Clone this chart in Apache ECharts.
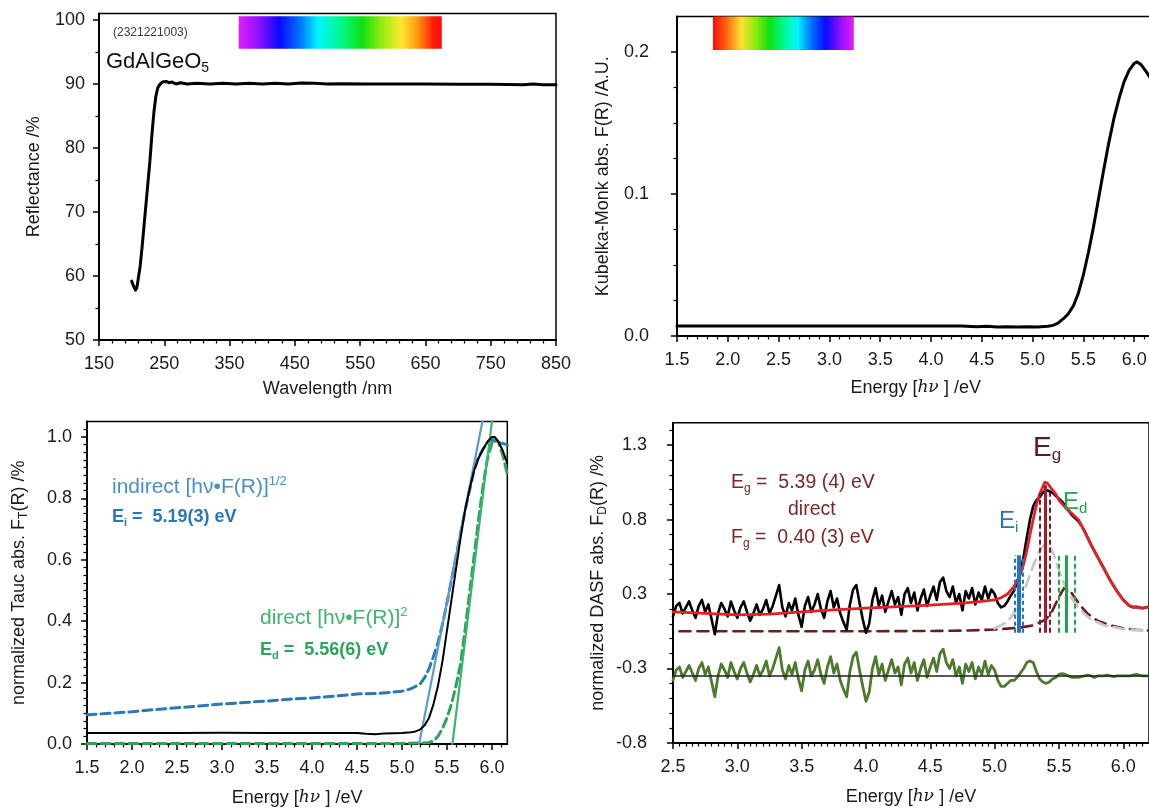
<!DOCTYPE html>
<html>
<head>
<meta charset="utf-8">
<script src="https://cdn.jsdelivr.net/npm/echarts@6/dist/echarts.min.js"></script>
<style>
  html, body { margin: 0; padding: 0; background: #fff; }
  #chart { width: 1149px; height: 810px; }
</style>
</head>
<body>
<div id="chart"></div>
<script>
// ---------- Reflectance spectrum (upper left) ----------
const reflWavelength = [200,203,206,208,210,213,216,220,224,228,231,234,237,240,243,247,250,253,257,262,268,275,285,300,320,340,360,380,400,420,440,460,480,500,520,560,600,650,700,750,800,815,830,850];
const reflPercent = [59.2,58.4,57.8,58.2,59.5,61.5,64.5,69,73.5,78,82,85.5,88,89.4,89.9,90.3,90.1,90.4,90.2,90.3,90.0,90.2,90.0,90.1,90.0,90.1,90.0,90.1,90.0,90.1,90.0,90.15,90.1,90.0,90.05,90.0,90.0,90.0,89.95,89.95,89.9,90.0,89.9,89.9];
const reflXTicks = [150,250,350,450,550,650,750,850];
const reflYTicks = [50,60,70,80,90,100];
const visibleBandNm = [364, 675];
const visibleBandR = [95.5, 100.6];

// ---------- Kubelka-Munk absorption (upper right) ----------
const kmEnergy = [1.5,2.0,2.5,3.0,3.5,4.0,4.3,4.45,4.55,4.65,4.75,4.85,4.95,5.05,5.15,5.2,5.25,5.3,5.35,5.4,5.45,5.5,5.55,5.6,5.65,5.7,5.75,5.8,5.85,5.9,5.95,6.0,6.03,6.07,6.12,6.2];
const kmValue = [0.0070,0.0070,0.0070,0.0070,0.0071,0.0070,0.0071,0.0066,0.0068,0.0064,0.0066,0.0063,0.0065,0.0064,0.0068,0.0075,0.009,0.012,0.0155,0.021,0.030,0.043,0.059,0.077,0.097,0.117,0.136,0.153,0.167,0.179,0.187,0.192,0.193,0.191,0.186,0.177];
const kmYTicks = [0, 0.1, 0.2];
const kmBandEnergy = [1.854, 3.24];
const kmBandValue = [0.2014, 0.225];
const energyTicks = [1.5,2.0,2.5,3.0,3.5,4.0,4.5,5.0,5.5,6.0];

// ---------- Tauc plots (lower left) ----------
const taucEnergy = [1.5,2.0,2.5,3.0,3.5,4.0,4.5,4.6,4.7,4.8,4.9,5.0,5.1,5.15,5.2,5.25,5.3,5.35,5.4,5.45,5.5,5.55,5.6,5.65,5.7,5.75,5.8,5.85,5.9,5.95,6.0,6.03,6.07,6.12,6.17];
const taucValue = [0.036,0.036,0.036,0.037,0.036,0.036,0.036,0.033,0.032,0.034,0.035,0.036,0.038,0.041,0.047,0.06,0.085,0.13,0.19,0.27,0.37,0.47,0.57,0.67,0.76,0.83,0.89,0.93,0.96,0.985,1.0,1.0,0.985,0.955,0.915];
const indirectEnergy = [1.5,1.75,2.0,2.25,2.5,2.75,3.0,3.25,3.5,3.75,4.0,4.25,4.5,4.75,5.0,5.1,5.2,5.25,5.3,5.35,5.4,5.45,5.5,5.6,5.7,5.8,5.85,5.9,5.95,6.0,6.05,6.1,6.17];
const indirectValue = [0.095,0.10,0.105,0.112,0.118,0.124,0.13,0.135,0.14,0.146,0.150,0.156,0.163,0.165,0.172,0.18,0.195,0.215,0.245,0.285,0.33,0.39,0.46,0.61,0.76,0.89,0.935,0.96,0.98,0.99,0.985,0.98,0.975];
const directEnergy = [1.5,2.5,3.5,4.5,5.0,5.2,5.3,5.35,5.4,5.45,5.5,5.55,5.6,5.65,5.7,5.75,5.8,5.85,5.9,5.95,6.0,6.03,6.07,6.12,6.17];
const directValue = [0.002,0.002,0.002,0.002,0.002,0.003,0.005,0.01,0.025,0.05,0.085,0.13,0.19,0.26,0.37,0.49,0.61,0.73,0.84,0.93,0.98,0.995,0.985,0.94,0.88];
const indirectFitEnergy = [5.19, 5.92];
const indirectFitValue = [0, 1.09];
const directFitEnergy = [5.56, 6.02];
const directFitValue = [0, 1.10];
const taucYTicks = [0, 0.2, 0.4, 0.6, 0.8, 1.0];

// ---------- DASF analysis (lower right) ----------
const dasfStart = 2.5, dasfStep = 0.025;
const dasfMeasured = [
  0.10,0.17,0.19,0.12,0.16,0.20,0.14,0.09,0.17,0.21,0.13,0.18,0.08,-0.02,0.12,0.19,0.15,0.10,0.20,0.14,
  0.09,0.16,0.20,0.13,0.07,0.12,0.18,0.11,0.15,0.21,0.12,0.17,0.24,0.31,0.16,0.10,0.19,0.14,0.22,0.11,
  0.03,0.17,0.23,0.13,0.18,0.25,0.15,0.09,0.20,0.27,0.16,0.22,0.12,0.06,0.01,0.18,0.28,0.31,0.19,0.08,
  -0.01,0.05,0.21,0.29,0.17,0.24,0.13,0.20,0.27,0.18,0.23,0.11,0.25,0.29,0.19,0.26,0.14,0.22,0.28,0.17,
  0.24,0.30,0.21,0.33,0.36,0.27,0.23,0.30,0.19,0.25,0.14,0.27,0.22,0.29,0.18,0.26,0.21,0.30,0.22,0.28,
  0.25,0.19,0.16,0.17,0.20,0.24,0.27,0.33,0.40,0.50,0.63,0.75,0.84,0.88,0.90,0.93,0.95,0.94,0.93,0.91,
  0.89,0.87,0.84,0.81,0.78,0.76,0.74,0.71,0.67,0.625,0.58,0.54,0.50,0.46,0.42,0.38,0.34,0.305,0.27,0.24,
  0.21,0.19,0.17,0.16,0.165,0.16,0.155,0.16,0.165
];
const dasfResidual = [
  -0.33,-0.26,-0.24,-0.31,-0.27,-0.23,-0.28,-0.33,-0.25,-0.21,-0.29,-0.24,-0.34,-0.44,-0.30,-0.22,-0.26,-0.31,-0.21,-0.27,
  -0.32,-0.25,-0.21,-0.28,-0.34,-0.29,-0.23,-0.30,-0.26,-0.20,-0.30,-0.25,-0.18,-0.11,-0.26,-0.32,-0.23,-0.29,-0.21,-0.32,
  -0.40,-0.26,-0.20,-0.30,-0.26,-0.19,-0.29,-0.35,-0.24,-0.17,-0.28,-0.22,-0.33,-0.39,-0.44,-0.27,-0.17,-0.14,-0.26,-0.37,
  -0.47,-0.41,-0.25,-0.17,-0.29,-0.22,-0.33,-0.26,-0.19,-0.28,-0.24,-0.36,-0.22,-0.18,-0.28,-0.21,-0.33,-0.25,-0.19,-0.31,
  -0.24,-0.18,-0.27,-0.15,-0.12,-0.21,-0.25,-0.19,-0.30,-0.24,-0.35,-0.22,-0.27,-0.21,-0.32,-0.24,-0.29,-0.20,-0.29,-0.23,
  -0.26,-0.33,-0.37,-0.37,-0.35,-0.33,-0.33,-0.31,-0.28,-0.25,-0.21,-0.20,-0.21,-0.27,-0.32,-0.34,-0.35,-0.34,-0.32,-0.31,
  -0.29,-0.285,-0.29,-0.30,-0.31,-0.31,-0.31,-0.305,-0.30,-0.295,-0.30,-0.31,-0.30,-0.30,-0.30,-0.295,-0.30,-0.305,-0.30,-0.30,
  -0.30,-0.30,-0.30,-0.295,-0.29,-0.295,-0.30,-0.30,-0.30
];
const dasfFitEnergy = [2.5,2.75,3.0,3.25,3.5,3.75,4.0,4.25,4.5,4.75,4.9,5.0,5.05,5.1,5.15,5.2,5.225,5.25,5.275,5.3,5.325,5.35,5.375,5.39,5.41,5.44,5.475,5.5,5.525,5.55,5.6,5.65,5.7,5.75,5.8,5.85,5.9,5.95,6.0,6.05,6.1,6.15,6.2];
const dasfFitValue = [0.13,0.12,0.11,0.115,0.13,0.143,0.155,0.165,0.176,0.189,0.2,0.21,0.225,0.25,0.30,0.38,0.45,0.54,0.65,0.75,0.85,0.92,0.97,1.0,0.995,0.96,0.92,0.88,0.855,0.83,0.79,0.75,0.67,0.58,0.50,0.42,0.34,0.27,0.21,0.17,0.16,0.155,0.165];
const dasfBaseEnergy = [2.55,3.0,3.5,4.0,4.5,4.8,5.0,5.1,5.2,5.3,5.4,5.45,5.5,5.54,5.58,5.62,5.66,5.72,5.8,5.9,6.0,6.1,6.2];
const dasfBaseValue = [0.0,0.0,0.0,0.0,0.002,0.005,0.012,0.018,0.025,0.04,0.08,0.14,0.23,0.29,0.28,0.23,0.18,0.12,0.07,0.04,0.02,0.01,0.005];
const dasfPeakEnergy = [5.0,5.05,5.1,5.15,5.2,5.25,5.3,5.35,5.39,5.43,5.47,5.5,5.55,5.6,5.65,5.7,5.75,5.85,6.0,6.2];
const dasfPeakValue = [0.02,0.04,0.065,0.12,0.21,0.32,0.44,0.54,0.585,0.57,0.49,0.41,0.30,0.22,0.16,0.115,0.08,0.04,0.015,0.0];
const residualZero = -0.30;
const dasfYTicks = [-0.75, -0.25, 0.25, 0.75, 1.25];
const dasfYLabels = ['-0.8', '-0.3', '0.3', '0.8', '1.3'];
const dasfXTicks = [2.5,3.0,3.5,4.0,4.5,5.0,5.5,6.0];
// band edges: [energy, uncertainty]
const edgeIndirect = [5.19, 0.03];
const edgeDasf = [5.39, 0.04];
const edgeDirect = [5.56, 0.06];
const edgeLineTop = [0.51, 0.98, 0.51];
const edgeErrTop = [0.51, 0.93, 0.51];
const edgeBottom = -0.01;

// ---------- helpers ----------
const FONT = '"Liberation Sans", Arial, Helvetica, sans-serif';
const zip = (xs, ys) => xs.map((x, i) => [x, ys[i]]);
const dasfEnergy = dasfMeasured.map((_, i) => +(dasfStart + i * dasfStep).toFixed(3));

const NAME_STYLE = {
  fontFamily: FONT, fontSize: 18, color: '#1a1a1a', lineHeight: 22,
  rich: {
    s: { fontFamily: FONT, fontSize: 12, lineHeight: 10, verticalAlign: 'bottom', color: '#1a1a1a' },
    i: { fontFamily: 'DejaVu Serif, serif', fontStyle: 'italic', fontSize: 17, lineHeight: 22, color: '#1a1a1a' }
  }
};

function axis(o) {
  return {
    type: 'value', gridIndex: o.grid, min: o.min, max: o.max, interval: o.interval,
    axisLine: { show: true, onZero: false, lineStyle: { color: '#000', width: 2 } },
    axisTick: { show: true, inside: false, length: 6, customValues: o.ticks, lineStyle: { color: '#000', width: 1.5 } },
    minorTick: { show: true, splitNumber: o.minor, length: 3.5, lineStyle: { color: '#000', width: 1.2 } },
    axisLabel: {
      show: true, customValues: o.ticks, margin: o.margin,
      fontFamily: FONT, fontSize: 18, color: '#1a1a1a',
      formatter: o.fmt
    },
    splitLine: { show: false }, minorSplitLine: { show: false },
    name: o.name, nameLocation: 'middle', nameGap: o.gap, nameTextStyle: NAME_STYLE
  };
}
const fmt1 = v => v.toFixed(1);
const fmtInt = v => String(Math.round(v));
const fmtDasf = v => {
  const k = dasfYTicks.findIndex(t => Math.abs(t - v) < 1e-6);
  return k >= 0 ? dasfYLabels[k] : '';
};

function line(xi, data, color, width, type, z) {
  return {
    type: 'line', xAxisIndex: xi, yAxisIndex: xi, data, symbol: 'none', showSymbol: false,
    silent: true, clip: true, z: z || 2,
    lineStyle: { color, width, type: type || 'solid', cap: 'round', join: 'round' }
  };
}

const gradVisible = new echarts.graphic.LinearGradient(0, 0, 1, 0, [
  { offset: 0, color: '#e41cff' }, { offset: 0.1, color: '#8a10ff' }, { offset: 0.2, color: '#0a0aff' },
  { offset: 0.3, color: '#0070ff' }, { offset: 0.39, color: '#00f6ff' }, { offset: 0.5, color: '#00f890' },
  { offset: 0.61, color: '#10e010' }, { offset: 0.7, color: '#90ec10' }, { offset: 0.8, color: '#ffe830' },
  { offset: 0.88, color: '#ff9a10' }, { offset: 0.96, color: '#ff1a08' }, { offset: 1, color: '#ff0a0a' }
]);
const gradEnergy = new echarts.graphic.LinearGradient(0, 0, 1, 0, [
  { offset: 0, color: '#ff0a0a' }, { offset: 0.1, color: '#ff6a10' }, { offset: 0.2, color: '#ffe030' },
  { offset: 0.3, color: '#90ec10' }, { offset: 0.4, color: '#10e010' }, { offset: 0.5, color: '#00f890' },
  { offset: 0.6, color: '#00f6ff' }, { offset: 0.7, color: '#0070ff' }, { offset: 0.8, color: '#0a0aff' },
  { offset: 0.9, color: '#8a10ff' }, { offset: 1, color: '#e41cff' }
]);

function vline(E, y0, y1, color, width, type) {
  return [{ coord: [E, y0], lineStyle: { color, width, type } }, { coord: [E, y1] }];
}
const C_I = '#1f76c2', C_G = '#a51c2e', C_GD = '#7a1a22', C_D = '#22a24c';
const edgeLines = [
  vline(edgeIndirect[0] - edgeIndirect[1], edgeBottom, edgeErrTop[0], C_I, 2, [4, 3]),
  vline(edgeIndirect[0] + edgeIndirect[1], edgeBottom, edgeErrTop[0], C_I, 2, [4, 3]),
  vline(edgeIndirect[0], edgeBottom, edgeLineTop[0], C_I, 4, 'solid'),
  vline(edgeDasf[0] - edgeDasf[1], edgeBottom, edgeErrTop[1], C_GD, 2, [5, 3]),
  vline(edgeDasf[0] + edgeDasf[1], edgeBottom, edgeErrTop[1], C_GD, 2, [5, 3]),
  vline(edgeDasf[0], edgeBottom, edgeLineTop[1], C_G, 3, 'solid'),
  vline(edgeDirect[0] - edgeDirect[1], edgeBottom, edgeErrTop[2], C_D, 2, [5, 3]),
  vline(edgeDirect[0] + edgeDirect[1], edgeBottom, edgeErrTop[2], C_D, 2, [5, 3]),
  vline(edgeDirect[0], edgeBottom, edgeLineTop[2], C_D, 3, 'solid')
];

const gridBase = { show: true, borderColor: '#000', borderWidth: 1.5, backgroundColor: 'transparent', containLabel: false, outerBoundsMode: 'none' };

// text annotations (zrender text: colours go in "fill")
function txt(x, y, text, rich, extra) {
  return {
    type: 'text', x, y, silent: true, z: 50,
    style: Object.assign({ text, rich, fontFamily: FONT, align: 'left', verticalAlign: 'middle', textAlign: 'left', textVerticalAlign: 'middle' }, extra || {})
  };
}
const richSub = (size, color, weight) => ({
  m: { fontFamily: FONT, fontSize: size, lineHeight: size + 4, fill: color, fontWeight: weight || 'normal' },
  s: { fontFamily: FONT, fontSize: Math.round(size * 0.62), lineHeight: Math.round(size * 0.55), verticalAlign: 'bottom', fill: color, fontWeight: weight || 'normal' },
  p: { fontFamily: FONT, fontSize: Math.round(size * 0.6), lineHeight: Math.round(size * 0.6), verticalAlign: 'top', fill: color, fontWeight: weight || 'normal' }
});

const chart = echarts.init(document.getElementById('chart'), null, { renderer: 'canvas' });
chart.setOption({
  animation: false,
  backgroundColor: '#fff',
  grid: [
    Object.assign({ left: 99, top: 13.6, width: 457, height: 326.4 }, gridBase),
    Object.assign({ left: 677, top: 16.5, width: 477.5, height: 319.5 }, gridBase),
    Object.assign({ left: 87, top: 421.6, width: 420.3, height: 322.4 }, gridBase),
    Object.assign({ left: 673, top: 422.7, width: 476, height: 320.3 }, gridBase)
  ],
  xAxis: [
    axis({ grid: 0, min: 150, max: 850, interval: 100, ticks: reflXTicks, minor: 5, margin: 15, fmt: fmtInt, name: 'Wavelength /nm', gap: 38 }),
    axis({ grid: 1, min: 1.5, max: 6.2, interval: 0.5, ticks: energyTicks, minor: 5, margin: 15, fmt: fmt1, name: 'Energy [{i|hν }] /eV', gap: 41 }),
    axis({ grid: 2, min: 1.5, max: 6.17, interval: 0.5, ticks: energyTicks, minor: 5, margin: 15, fmt: fmt1, name: 'Energy [{i|hν }] /eV', gap: 43 }),
    axis({ grid: 3, min: 2.5, max: 6.2, interval: 0.5, ticks: dasfXTicks, minor: 10, margin: 15, fmt: fmt1, name: 'Energy [{i|hν }] /eV', gap: 43 })
  ],
  yAxis: [
    axis({ grid: 0, min: 50, max: 101, interval: 10, ticks: reflYTicks, minor: 2, margin: 14, fmt: fmtInt, name: 'Reflectance /%', gap: 54 }),
    axis({ grid: 1, min: 0, max: 0.225, interval: 0.1, ticks: kmYTicks, minor: 4, margin: 28, fmt: fmt1, name: 'Kubelka-Monk abs. F(R) /A.U.', gap: 63 }),
    axis({ grid: 2, min: 0, max: 1.05, interval: 0.2, ticks: taucYTicks, minor: 8, margin: 15, fmt: fmt1, name: 'normalized Tauc abs. F{s|T}(R) /%', gap: 57 }),
    axis({ grid: 3, min: -0.75, max: 1.4, interval: 0.5, ticks: dasfYTicks, minor: 5, margin: 26, fmt: fmtDasf, name: 'normalized DASF abs. F{s|D}(R) /%', gap: 64 })
  ],
  series: [
    Object.assign(line(0, zip(reflWavelength, reflPercent), '#000', 3), {
      markArea: {
        silent: true, itemStyle: { color: gradVisible, borderWidth: 0 },
        data: [[{ coord: [visibleBandNm[0], visibleBandR[0]] }, { coord: [visibleBandNm[1], visibleBandR[1]] }]]
      }
    }),
    Object.assign(line(1, zip(kmEnergy, kmValue), '#000', 3), {
      markArea: {
        silent: true, itemStyle: { color: gradEnergy, borderWidth: 0 },
        data: [[{ coord: [kmBandEnergy[0], kmBandValue[0]] }, { coord: [kmBandEnergy[1], kmBandValue[1]] }]]
      }
    }),
    line(2, zip(indirectEnergy, indirectValue), '#2b78b8', 3, [9, 5], 2),
    line(2, zip(directEnergy, directValue), '#2ca55a', 3, [9, 5], 2),
    line(2, zip(indirectFitEnergy, indirectFitValue), '#5b9bd5', 2.2, 'solid', 3),
    line(2, zip(directFitEnergy, directFitValue), '#3cb371', 2.2, 'solid', 3),
    line(2, zip(taucEnergy, taucValue), '#000', 2, 'solid', 4),
    line(3, zip(dasfBaseEnergy, dasfBaseValue), '#6e1c1c', 2.6, [11, 7], 2),
    line(3, zip(dasfPeakEnergy, dasfPeakValue), '#c8c8c8', 2.8, [11, 7], 2),
    line(3, zip(dasfEnergy, dasfMeasured), '#000', 2.6, 'solid', 3),
    line(3, zip(dasfFitEnergy, dasfFitValue), '#e61e25', 2.8, 'solid', 4),
    line(3, zip(dasfEnergy, dasfResidual), '#4c7a2e', 2.8, 'solid', 3),
    line(3, [[2.5, residualZero], [6.2, residualZero]], '#222', 1.4, 'solid', 4),
    Object.assign(line(3, [[edgeDasf[0], -2]], '#000', 0, 'solid', 5), {
      markLine: { silent: true, symbol: ['none', 'none'], label: { show: false }, animation: false, data: edgeLines }
    })
  ],
  graphic: {
    elements: [
      txt(113, 33, '(2321221003)', null, { fontSize: 12, fill: '#3a3a3a' }),
      txt(106, 62, '{m|GdAlGeO}{s|5}', richSub(22, '#111')),
      txt(112, 487, '{m|indirect [hν•F(R)]}{p|1/2}', richSub(21, '#4a8fca')),
      txt(112, 517, '{m|E}{s|i}{m| =  5.19(3) eV}', richSub(18, '#2878b8', 'bold')),
      txt(260, 618, '{m|direct [hν•F(R)]}{p|2}', richSub(21, '#3db56d')),
      txt(260, 650, '{m|E}{s|d}{m| =  5.56(6) eV}', richSub(18, '#2aa65a', 'bold')),
      txt(731, 483, '{m|E}{s|g}{m| =  5.39 (4) eV}', richSub(19.5, '#7a2828')),
      txt(788, 510, '{m|direct}', richSub(19.5, '#7a2828')),
      txt(731, 538, '{m|F}{s|g}{m| =  0.40 (3) eV}', richSub(19.5, '#7a2828')),
      txt(1033, 448, '{m|E}{s|g}', richSub(28, '#5e1a1e')),
      txt(999, 521, '{m|E}{s|i}', richSub(24, '#2276c2')),
      txt(1063, 502, '{m|E}{s|d}', richSub(24, '#27a350'))
    ]
  }
});
</script>
</body>
</html>
